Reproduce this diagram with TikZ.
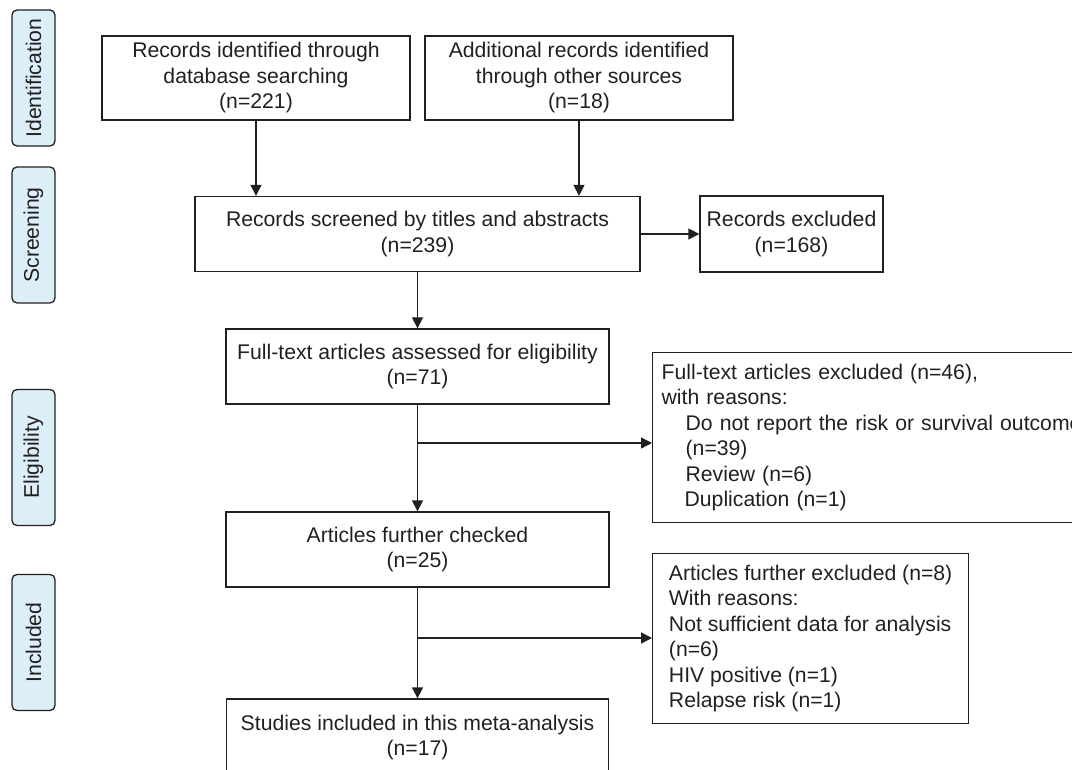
\documentclass[tikz,border=0pt]{standalone}
\usepackage{fontspec}
\setmainfont{Liberation Sans}
\usetikzlibrary{arrows.meta}
\definecolor{ink}{HTML}{231F20}
\definecolor{stagefill}{HTML}{DCEFF8}

\begin{document}
\begin{tikzpicture}[x=0.5pt,y=-0.5pt,
    box/.style={draw=ink, line width=0.65pt, inner sep=0pt, align=center, text=ink,
        font=\fontsize{10.6}{12.75}\selectfont},
    stage/.style={box, fill=stagefill, rounded corners=2.5pt, rotate=90,
        minimum width=68pt, minimum height=21.5pt},
    arr/.style={draw=ink, line width=0.65pt, -{Triangle[length=5.5pt,width=5.5pt]}}]

    \useasboundingbox (0,0) rectangle (1072,770);

    % stages on the left
    \node[stage] (ident) at (33.5,78) {Identification};
    \node[stage] (screen) at (33.5,235) {Screening};
    \node[stage] (elig) at (33.5,457.5) {Eligibility};
    \node[stage] (incl) at (33.5,642.5) {Included};

    % main column
    \node[box, minimum width=154pt, minimum height=42pt] (dbrec) at (256,78)
        {Records identified through\\database searching\\(n=221)};
    \node[box, minimum width=154pt, minimum height=42pt] (otherrec) at (579,78)
        {Additional records identified\\through other sources\\(n=18)};
    \node[box, minimum width=222.5pt, minimum height=37.5pt] (screened) at (417.5,234)
        {Records screened by titles and abstracts\\(n=239)};
    \node[box, minimum width=91.5pt, minimum height=38pt] (recexcl) at (791.5,234)
        {Records excluded\\(n=168)};
    \node[box, minimum width=191.5pt, minimum height=37.5pt] (fulltext) at (417.5,366.5)
        {Full-text articles assessed for eligibility\\(n=71)};
    \node[box, minimum width=191.5pt, minimum height=37.5pt] (checked) at (417.5,549.5)
        {Articles further checked\\(n=25)};
    \node[box, minimum width=191pt, minimum height=38.5pt] (studies) at (417.5,737.5)
        {Studies included in this meta-analysis\\(n=17)};

    % exclusion boxes on the right
    \node[box, anchor=north west, align=left, text width=220pt, inner xsep=4.5pt,
        minimum height=85pt] (ftexcl) at (652,352)
        {Full-text articles excluded (n=46),\\
         with reasons:\\
         \hspace*{12pt}Do not report the risk or survival outcome\\
         \hspace*{12pt}(n=39)\\
         \hspace*{12pt}Review (n=6)\\
         \hspace*{11.5pt}Duplication (n=1)};
    \node[box, anchor=north west, align=left, minimum width=158pt,
        minimum height=85pt] (furtherexcl) at (652,553)
        {Articles further excluded (n=8)\\
         With reasons:\\
         Not sufficient data for analysis\\
         (n=6)\\
         HIV positive (n=1)\\
         Relapse risk (n=1)};

    \coordinate (split1) at (417.5,443);
    \coordinate (split2) at (417.5,638);

\draw[arr] (dbrec) -- (dbrec |- screened.north);
\draw[arr] (otherrec) -- (otherrec |- screened.north);
\draw[arr] (screened) -- (recexcl);
\draw[arr] (screened) -- (fulltext);

\draw[arr] (fulltext) -- (checked);
\draw[arr] (split1) -- (split1 -| ftexcl.west);

\draw[arr] (checked) -- (studies);
\draw[arr] (split2) -- (split2 -| furtherexcl.west);

\end{tikzpicture}
\end{document}
